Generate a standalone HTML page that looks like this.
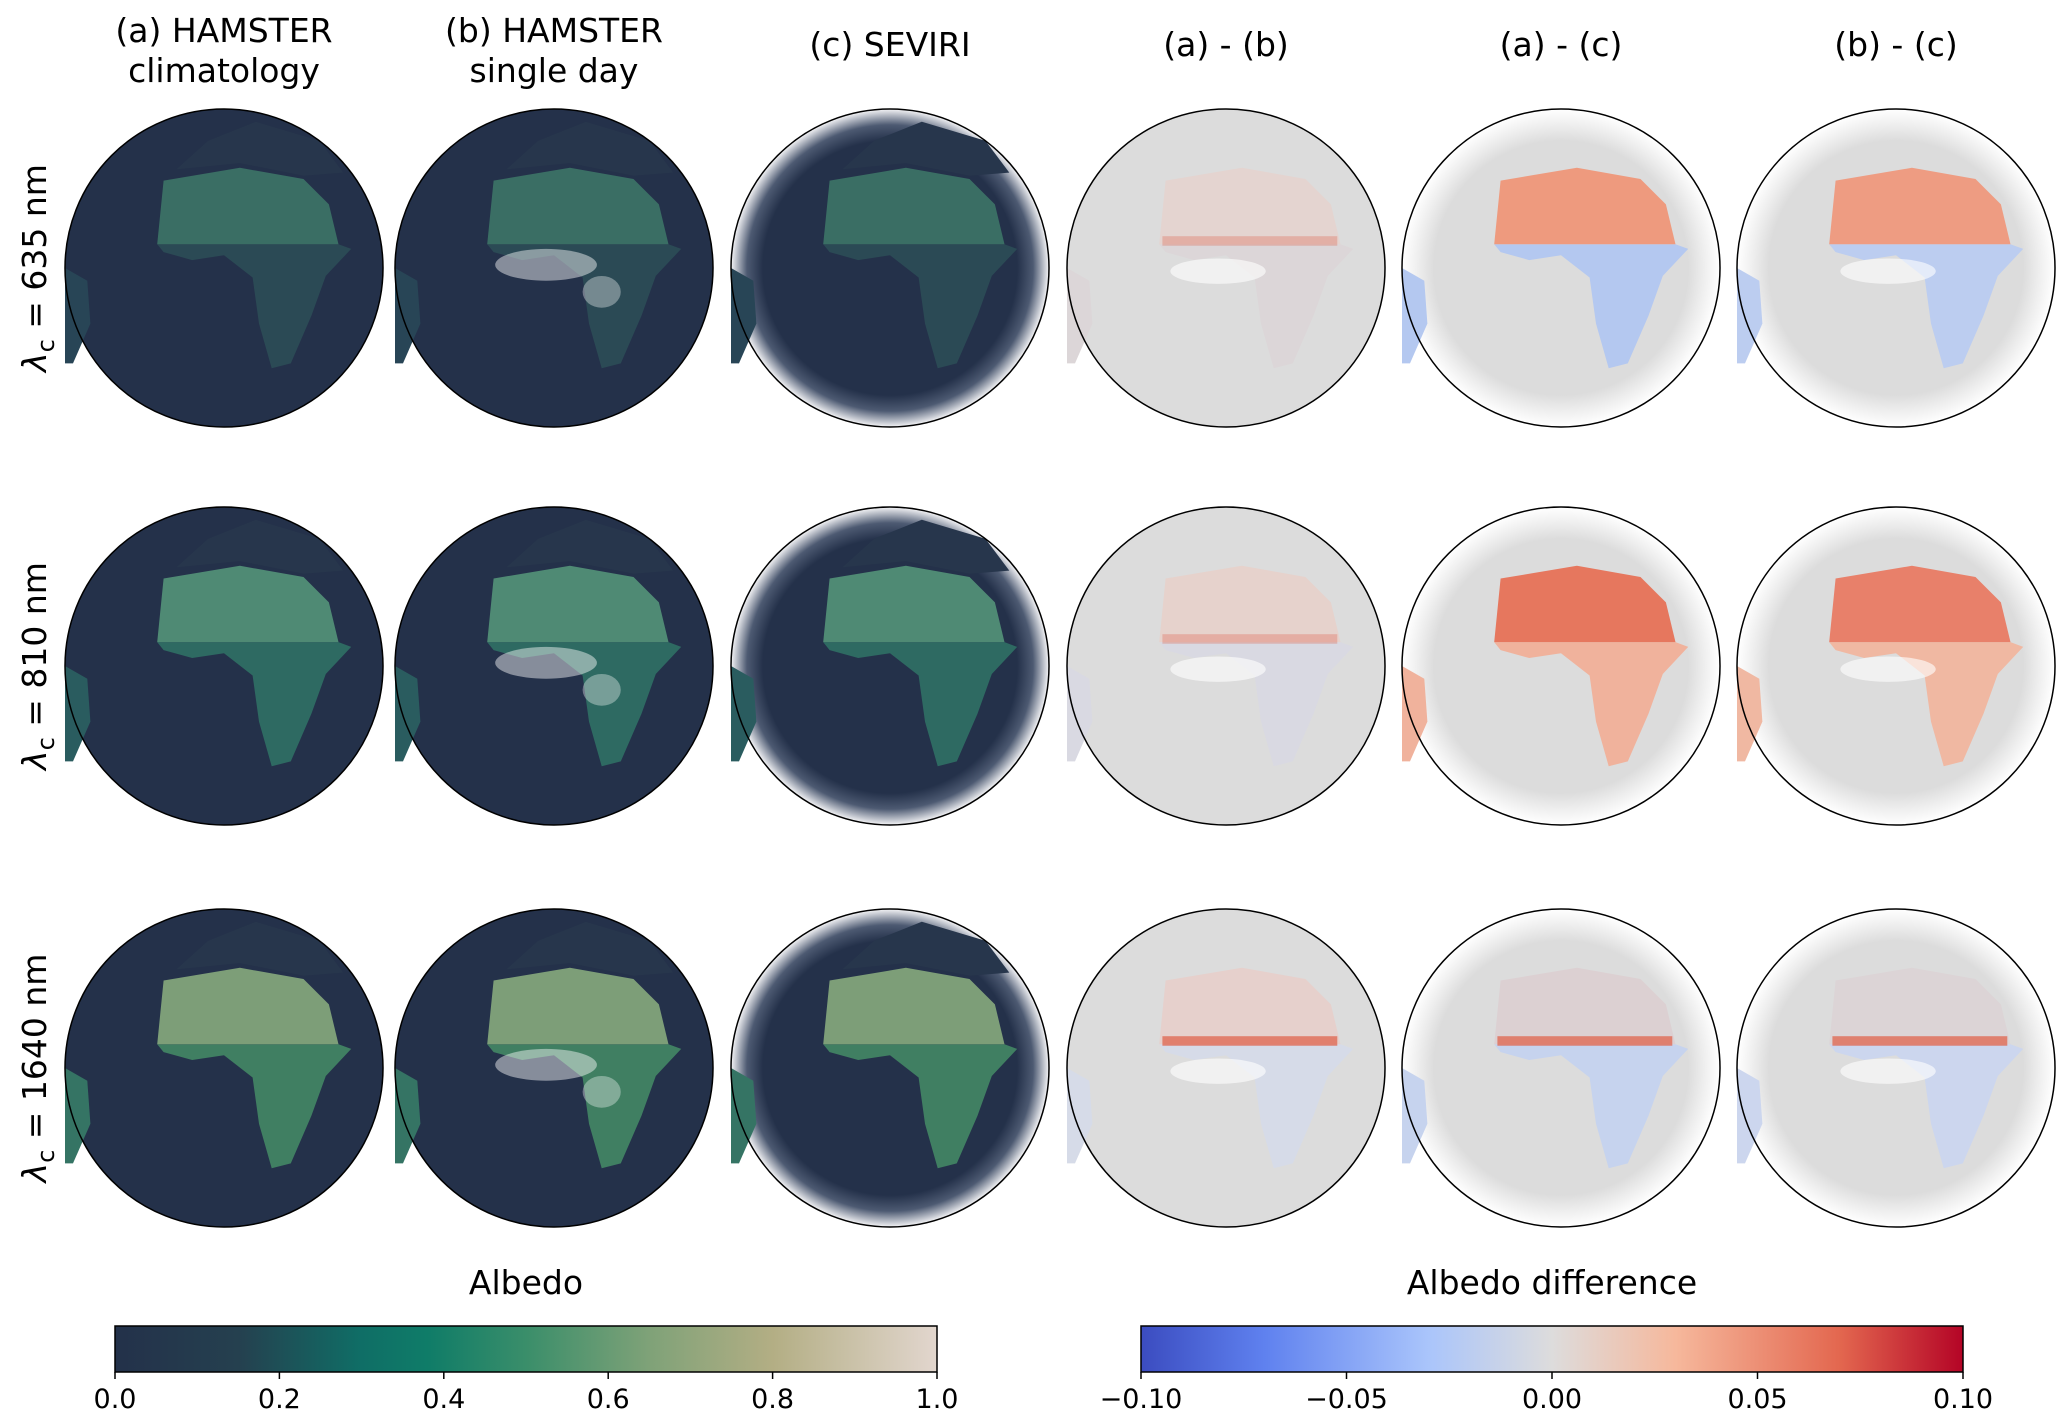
<!DOCTYPE html>
<html><head><meta charset="utf-8"><style>
html,body{margin:0;padding:0;background:#fff;}
svg{display:block;font-family:"DejaVu Sans","Liberation Sans",sans-serif;}
</style></head><body>
<svg id="fig" width="2067" height="1422" viewBox="0 0 2067 1422" xmlns="http://www.w3.org/2000/svg">
<defs>
<linearGradient id="batlow" x1="0" x2="1" y1="0" y2="0">
<stop offset="0" stop-color="#23314a"/><stop offset="0.15" stop-color="#25404f"/><stop offset="0.3" stop-color="#0f6e66"/><stop offset="0.38" stop-color="#0f7c68"/><stop offset="0.5" stop-color="#3a8e6a"/><stop offset="0.65" stop-color="#7fa278"/><stop offset="0.8" stop-color="#b3ae84"/><stop offset="1" stop-color="#e2d6ce"/>
</linearGradient>
<linearGradient id="cw" x1="0" x2="1" y1="0" y2="0">
<stop offset="0" stop-color="#3b4cc0"/><stop offset="0.15" stop-color="#5f81ef"/><stop offset="0.35" stop-color="#aac5fb"/><stop offset="0.5" stop-color="#dddcdc"/><stop offset="0.65" stop-color="#f6b89c"/><stop offset="0.85" stop-color="#e3674f"/><stop offset="1" stop-color="#b40426"/>
</linearGradient>
<radialGradient id="ringDark"><stop offset="0.8" stop-color="#24314a"/><stop offset="0.9" stop-color="#4d5a72"/><stop offset="1" stop-color="#f4f4f6"/></radialGradient>
<radialGradient id="ringGrey"><stop offset="0.8" stop-color="#dcdcdc"/><stop offset="0.9" stop-color="#eeeeee"/><stop offset="1" stop-color="#ffffff"/></radialGradient>
</defs>
<g id="panels"></g>
<g id="cbars"></g>
</svg>
<script>
// Colorbar data
const albedoTicks = [0.0, 0.2, 0.4, 0.6, 0.8, 1.0];
const albedoTickLabels = ["0.0","0.2","0.4","0.6","0.8","1.0"];
const diffTicks = [-0.10, -0.05, 0.00, 0.05, 0.10];
const diffTickLabels = ["\u22120.10","\u22120.05","0.00","0.05","0.10"];
const colTitles = [["(a) HAMSTER","climatology"],["(b) HAMSTER","single day"],["(c) SEVIRI"],["(a) - (b)"],["(a) - (c)"],["(b) - (c)"]];
const rowLabels = ["635","810","1640"];

const NS="http://www.w3.org/2000/svg";
const svg=document.getElementById('fig');
const panels=document.getElementById('panels');
function mk(tag,attrs,parent){const e=document.createElementNS(NS,tag);for(const k in attrs)e.setAttribute(k,attrs[k]);(parent||svg).appendChild(e);return e;}

const cx=[224,554,890,1226,1561,1896], cy=[268,666,1068], R=159;
const sahara=[[-0.38,-0.55],[0.1,-0.63],[0.5,-0.56],[0.66,-0.4],[0.72,-0.15],[-0.42,-0.15]];
const south=[[-0.42,-0.15],[0.72,-0.15],[0.8,-0.12],[0.64,0.05],[0.55,0.3],[0.42,0.6],[0.3,0.63],[0.22,0.35],[0.18,0.06],[0.0,-0.08],[-0.2,-0.05],[-0.38,-0.1]];
const samer=[[-1,0.0],[-0.86,0.08],[-0.84,0.35],[-0.95,0.6],[-1,0.6]];
const europe=[[-0.3,-0.62],[-0.1,-0.8],[0.2,-0.92],[0.6,-0.8],[0.75,-0.6],[0.5,-0.58],[0.1,-0.66]];
function pts(arr,x,y){return arr.map(p=>(x+p[0]*R).toFixed(1)+','+(y+p[1]*R).toFixed(1)).join(' ');}

const albCols=[["#3a6e64","#2b4a55","#284556"],["#4f8a74","#2e6a62","#2a5c5f"],["#7d9e78","#407f62","#357464"]];
const diffCols={
 3:[["#e4d4d0","#dcd6d8"],["#e6d2cc","#d9d9e2"],["#e6d0cc","#d6dbe8"]],
 4:[["#ee9a7e","#b4c8f0"],["#e6775e","#f0b29c"],["#dcd0d2","#c6d3ee"]],
 5:[["#ee9c82","#bccdf0"],["#e8806a","#f0b8a2"],["#dcd4d6","#ccd6ee"]]
};

for(let c=0;c<6;c++){
  const t=mk('text',{x:cx[c],y:colTitles[c].length>1?42:56,'text-anchor':'middle','font-size':33,fill:'#000'},panels);
  
  
  colTitles[c].forEach((l,i)=>{const ts=mk('tspan',{x:cx[c],dy:i?40:0},t);ts.textContent=l;});
}
for(let r=0;r<3;r++){
  const lab=mk('text',{x:0,y:0,transform:`translate(46,${cy[r]}) rotate(-90)`,'text-anchor':'middle','font-size':33,fill:'#000'},panels);
  
  
  lab.innerHTML='<tspan font-style="italic">λ</tspan><tspan font-size="24" dy="8">c</tspan><tspan dy="-8"> = '+rowLabels[r]+' nm</tspan>';
  for(let c=0;c<6;c++){
    const g=mk('g',{},panels);
    
    
    const x=cx[c],y=cy[r];
    let bg = c<2?'#24314a':c==2?'url(#ringDark)':c==3?'#dcdcdc':'url(#ringGrey)';
    mk('circle',{cx:x,cy:y,r:R,fill:bg},g);
    if(c<3){
      const a=albCols[r];
      mk('polygon',{points:pts(europe,x,y),fill:'#27364c'},g);
      mk('polygon',{points:pts(south,x,y),fill:a[1]},g);
      mk('polygon',{points:pts(sahara,x,y),fill:a[0]},g);
      mk('polygon',{points:pts(samer,x,y),fill:a[2]},g);
      if(c==1){mk('ellipse',{cx:x-0.05*R,cy:y-0.02*R,rx:0.32*R,ry:0.1*R,fill:'#ffffff','fill-opacity':0.45},g);
               mk('ellipse',{cx:x+0.3*R,cy:y+0.15*R,rx:0.12*R,ry:0.1*R,fill:'#ffffff','fill-opacity':0.35},g);}
    } else {
      const d=diffCols[c][r];
      mk('polygon',{points:pts(south,x,y),fill:d[1]},g);
      mk('polygon',{points:pts(sahara,x,y),fill:d[0]},g);
      mk('polygon',{points:pts(samer,x,y),fill:d[1]},g);
      if(c!=4){mk('ellipse',{cx:x-0.05*R,cy:y+0.02*R,rx:0.3*R,ry:0.08*R,fill:'#ffffff','fill-opacity':0.6},g);}
      if(r==2||c==3){mk('rect',{x:x-0.4*R,y:y-0.2*R,width:1.1*R,height:0.06*R,fill:'#e06a55','fill-opacity':r==2?0.8:0.35},g);}
    }
    mk('circle',{cx:x,cy:y,r:R,fill:'none',stroke:'#000','stroke-width':1.5},g);
  }
}

// Colorbars
const cbars=document.getElementById('cbars');
function colorbar(x0,x1,y0,h,grad,ticks,labels,vmin,vmax,title,name){
  const g=mk('g',{},cbars);
  
  
  const sx=v=>x0+(v-vmin)/(vmax-vmin)*(x1-x0);
  const tt=mk('text',{x:(x0+x1)/2,y:y0-32,'text-anchor':'middle','font-size':33},g);
  
  
  tt.textContent=title;
  mk('rect',{x:x0,y:y0,width:x1-x0,height:h,fill:grad,stroke:'#000','stroke-width':1.5},g);
  ticks.forEach((v,i)=>{
    const tx=sx(v);
    mk('line',{x1:tx,x2:tx,y1:y0+h,y2:y0+h+7,stroke:'#000','stroke-width':1.5},g);
    const tl=mk('text',{x:tx,y:y0+h+36,'text-anchor':'middle','font-size':27},g);
    
    
    tl.textContent=labels[i];
  });
}
colorbar(115,937,1326,46,'url(#batlow)',albedoTicks,albedoTickLabels,0,1,'Albedo','albedo-colorbar');
colorbar(1141,1963,1326,46,'url(#cw)',diffTicks,diffTickLabels,-0.1,0.1,'Albedo difference','difference-colorbar');
</script>
</body></html>
